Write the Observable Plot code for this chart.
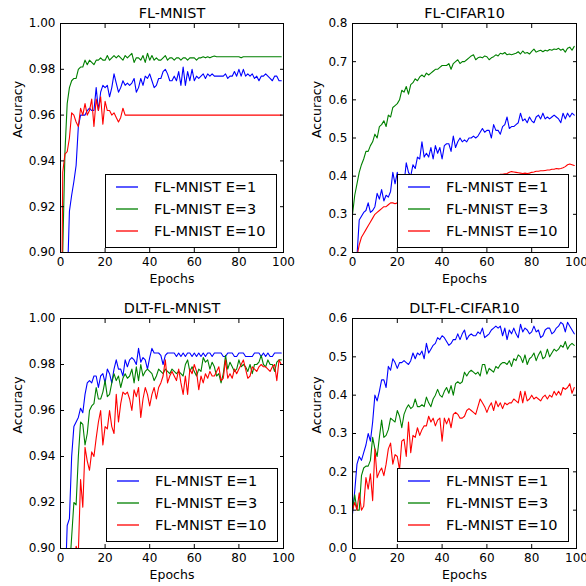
<!DOCTYPE html>
<html>
<head>
<meta charset="utf-8">
<script src="https://cdn.jsdelivr.net/npm/d3@7"></script>
<script src="https://cdn.jsdelivr.net/npm/@observablehq/plot@0.6"></script>
<style>
  html, body { margin: 0; padding: 0; background: #fff; }
  #chart { position: relative; width: 586px; height: 586px; font-family: "DejaVu Sans", sans-serif; }
  #chart > svg { position: absolute; }
  .legend { position: absolute; box-sizing: border-box; border: 1px solid #000; background: #fff; width: 172px; height: 74px; }
  .legend svg.sw { position: absolute; left: 10px; width: 24px; height: 4px; overflow: visible; }
  .legend .lt { position: absolute; left: 48px; font-size: 14.5px; line-height: 16px; color: #000; white-space: nowrap; }
</style>
</head>
<body>
<div id="chart"></div>
<script>
const seriesNames = ["FL-MNIST E=1", "FL-MNIST E=3", "FL-MNIST E=10"];
const seriesColors = ["#0000ff", "#008000", "#ff0000"];
const panelTitles = ["FL-MNIST", "FL-CIFAR10", "DLT-FL-MNIST", "DLT-FL-CIFAR10"];
const xTicks = [0, 20, 40, 60, 80, 100];
const mnistTicks = [0.90, 0.92, 0.94, 0.96, 0.98, 1.00];
const cifarTicksTop = [0.2, 0.3, 0.4, 0.5, 0.6, 0.7, 0.8];
const cifarTicksBottom = [0.0, 0.1, 0.2, 0.3, 0.4, 0.5, 0.6];

const flMnistE1 = [
  0.85, 0.86, 0.87, 0.885, 0.918, 0.925, 0.931, 0.938, 0.955, 0.960,
  0.960, 0.960, 0.962, 0.963, 0.962, 0.962, 0.972, 0.962, 0.970, 0.973,
  0.972, 0.973, 0.968, 0.972, 0.978, 0.974, 0.970, 0.972, 0.975, 0.973,
  0.974, 0.973, 0.974, 0.976, 0.970, 0.972, 0.976, 0.973, 0.977, 0.976,
  0.978, 0.975, 0.972, 0.973, 0.976, 0.976, 0.979, 0.980, 0.978, 0.975,
  0.975, 0.977, 0.975, 0.979, 0.973, 0.981, 0.973, 0.979, 0.975, 0.980,
  0.975, 0.977, 0.976, 0.977, 0.978, 0.976, 0.978, 0.977, 0.978, 0.977,
  0.977, 0.977, 0.977, 0.977, 0.978, 0.976, 0.977, 0.977, 0.979, 0.977,
  0.980, 0.977, 0.980, 0.977, 0.978, 0.977, 0.978, 0.976, 0.977, 0.975,
  0.977, 0.977, 0.978, 0.977, 0.976, 0.975, 0.977, 0.977, 0.975, 0.975
];
const flMnistE3 = [
  0.85, 0.90, 0.944, 0.965, 0.972, 0.975, 0.976, 0.976, 0.980, 0.981,
  0.981, 0.984, 0.982, 0.984, 0.983, 0.982, 0.984, 0.984, 0.985, 0.984,
  0.984, 0.986, 0.984, 0.985, 0.986, 0.985, 0.986, 0.985, 0.984, 0.986,
  0.985, 0.986, 0.987, 0.983, 0.985, 0.985, 0.984, 0.986, 0.983, 0.987,
  0.984, 0.986, 0.984, 0.985, 0.984, 0.984, 0.985, 0.986, 0.984, 0.985,
  0.985, 0.984, 0.985, 0.985, 0.984, 0.985, 0.985, 0.984, 0.985, 0.985,
  0.985, 0.984, 0.985, 0.985, 0.9855, 0.985, 0.9855, 0.985, 0.9855, 0.9858,
  0.9855, 0.9855, 0.9855, 0.9855, 0.9855, 0.9855, 0.9855, 0.9855, 0.9855, 0.9855,
  0.9855, 0.985, 0.9855, 0.9855, 0.9855, 0.9855, 0.9855, 0.9855, 0.9855, 0.9855,
  0.9855, 0.9855, 0.9855, 0.9855, 0.9855, 0.9855, 0.9855, 0.9855, 0.9855, 0.9855
];
const flMnistE10 = [
  0.80, 0.935, 0.943, 0.944, 0.950, 0.961, 0.960, 0.957, 0.955, 0.963,
  0.960, 0.965, 0.960, 0.962, 0.967, 0.955, 0.967, 0.962, 0.968, 0.956,
  0.966, 0.962, 0.962, 0.960, 0.961, 0.959, 0.957, 0.959, 0.963, 0.960,
  0.960, 0.960, 0.960, 0.960, 0.960, 0.960, 0.960, 0.960, 0.960, 0.960,
  0.960, 0.960, 0.960, 0.960, 0.960, 0.960, 0.960, 0.960, 0.960, 0.960,
  0.960, 0.960, 0.960, 0.960, 0.960, 0.960, 0.960, 0.960, 0.960, 0.960,
  0.960, 0.960, 0.960, 0.960, 0.960, 0.960, 0.960, 0.960, 0.960, 0.960,
  0.960, 0.960, 0.960, 0.960, 0.960, 0.960, 0.960, 0.960, 0.960, 0.960,
  0.960, 0.960, 0.960, 0.960, 0.960, 0.960, 0.960, 0.960, 0.960, 0.960,
  0.960, 0.960, 0.960, 0.960, 0.960, 0.960, 0.960, 0.960, 0.960, 0.960
];

const flCifarE1 = [
  0.15, 0.16, 0.19, 0.285, 0.295, 0.305, 0.31, 0.33, 0.305, 0.31,
  0.32, 0.355, 0.34, 0.365, 0.335, 0.35, 0.345, 0.36, 0.41, 0.38,
  0.41, 0.38, 0.40, 0.38, 0.435, 0.41, 0.40, 0.43, 0.42, 0.45,
  0.445, 0.49, 0.45, 0.46, 0.45, 0.475, 0.445, 0.48, 0.46, 0.475,
  0.445, 0.48, 0.485, 0.485, 0.465, 0.505, 0.475, 0.49, 0.50, 0.49,
  0.495, 0.49, 0.50, 0.50, 0.505, 0.50, 0.505, 0.515, 0.525, 0.515,
  0.52, 0.52, 0.50, 0.535, 0.52, 0.52, 0.51, 0.53, 0.535, 0.555,
  0.525, 0.53, 0.53, 0.535, 0.54, 0.565, 0.545, 0.55, 0.54, 0.555,
  0.545, 0.54, 0.555, 0.56, 0.55, 0.565, 0.55, 0.555, 0.55, 0.555,
  0.56, 0.555, 0.55, 0.54, 0.565, 0.55, 0.565, 0.555, 0.565, 0.56
];
const flCifarE3 = [
  0.30, 0.35, 0.38, 0.41, 0.43, 0.445, 0.465, 0.465, 0.48, 0.49,
  0.51, 0.50, 0.53, 0.535, 0.545, 0.53, 0.56, 0.555, 0.58, 0.585,
  0.59, 0.60, 0.625, 0.62, 0.635, 0.615, 0.64, 0.645, 0.655, 0.65,
  0.66, 0.665, 0.66, 0.67, 0.665, 0.67, 0.675, 0.68, 0.68, 0.685,
  0.69, 0.69, 0.69, 0.695, 0.68, 0.695, 0.70, 0.705, 0.695, 0.70,
  0.70, 0.705, 0.71, 0.715, 0.718, 0.705, 0.71, 0.712, 0.71, 0.715,
  0.713, 0.705, 0.71, 0.713, 0.718, 0.715, 0.722, 0.72, 0.724, 0.718,
  0.72, 0.718, 0.72, 0.722, 0.726, 0.72, 0.728, 0.722, 0.724, 0.72,
  0.727, 0.733, 0.725, 0.728, 0.73, 0.726, 0.73, 0.728, 0.732, 0.73,
  0.733, 0.732, 0.735, 0.73, 0.733, 0.725, 0.735, 0.738, 0.73, 0.74
];
const flCifarE10 = [
  0.15, 0.17, 0.19, 0.22, 0.24, 0.25, 0.26, 0.27, 0.28, 0.29,
  0.30, 0.305, 0.31, 0.315, 0.32, 0.32, 0.325, 0.33, 0.33, 0.328,
  0.33, 0.333, 0.336, 0.338, 0.342, 0.345, 0.347, 0.35, 0.352, 0.353,
  0.355, 0.357, 0.359, 0.361, 0.363, 0.365, 0.367, 0.368, 0.37, 0.372,
  0.375, 0.376, 0.378, 0.38, 0.382, 0.385, 0.386, 0.387, 0.389, 0.39,
  0.39, 0.391, 0.393, 0.394, 0.395, 0.395, 0.397, 0.398, 0.399, 0.40,
  0.40, 0.401, 0.402, 0.403, 0.404, 0.403, 0.405, 0.405, 0.406, 0.407,
  0.41, 0.412, 0.411, 0.41, 0.409, 0.408, 0.407, 0.408, 0.407, 0.408,
  0.41, 0.411, 0.413, 0.413, 0.414, 0.414, 0.415, 0.416, 0.416, 0.418,
  0.418, 0.42, 0.419, 0.42, 0.422, 0.425, 0.43, 0.432, 0.43, 0.428
];

const dltMnistE1 = [
  0.85, 0.86, 0.88, 0.91, 0.913, 0.940, 0.953, 0.955, 0.957, 0.961,
  0.959, 0.967, 0.972, 0.973, 0.972, 0.975, 0.975, 0.970, 0.975, 0.976,
  0.972, 0.978, 0.976, 0.972, 0.978, 0.982, 0.978, 0.978, 0.975, 0.982,
  0.979, 0.982, 0.983, 0.982, 0.980, 0.987, 0.981, 0.983, 0.982, 0.978,
  0.983, 0.987, 0.985, 0.985, 0.985, 0.984, 0.980, 0.984, 0.985, 0.985,
  0.985, 0.985, 0.9835, 0.985, 0.9835, 0.985, 0.9835, 0.985, 0.985, 0.9835,
  0.985, 0.9835, 0.985, 0.9835, 0.985, 0.9835, 0.985, 0.985, 0.9835, 0.985,
  0.985, 0.985, 0.985, 0.9835, 0.9835, 0.985, 0.985, 0.985, 0.9835, 0.9835,
  0.985, 0.985, 0.985, 0.9835, 0.9835, 0.9835, 0.9835, 0.985, 0.985, 0.985,
  0.9835, 0.985, 0.9835, 0.985, 0.9835, 0.9835, 0.985, 0.985, 0.985, 0.985
];
const dltMnistE3 = [
  0.80, 0.82, 0.85, 0.87, 0.89, 0.905, 0.920, 0.919, 0.940, 0.955,
  0.954, 0.945, 0.950, 0.960, 0.962, 0.963, 0.970, 0.965, 0.965, 0.968,
  0.973, 0.966, 0.967, 0.972, 0.976, 0.973, 0.975, 0.970, 0.974, 0.976,
  0.974, 0.975, 0.978, 0.972, 0.979, 0.973, 0.980, 0.975, 0.977, 0.978,
  0.977, 0.976, 0.973, 0.975, 0.978, 0.977, 0.976, 0.978, 0.977, 0.976,
  0.978, 0.977, 0.976, 0.977, 0.976, 0.975, 0.980, 0.982, 0.977, 0.979,
  0.977, 0.975, 0.978, 0.977, 0.983, 0.981, 0.982, 0.978, 0.981, 0.979,
  0.975, 0.976, 0.972, 0.976, 0.984, 0.978, 0.981, 0.979, 0.977, 0.978,
  0.982, 0.979, 0.980, 0.979, 0.977, 0.980, 0.976, 0.980, 0.980, 0.981,
  0.984, 0.980, 0.979, 0.982, 0.980, 0.980, 0.977, 0.981, 0.982, 0.982
];
const dltMnistE10 = [
  0.80, 0.82, 0.84, 0.86, 0.87, 0.88, 0.89, 0.901, 0.898, 0.930,
  0.918, 0.944, 0.938, 0.934, 0.942, 0.940, 0.948, 0.955, 0.960, 0.945,
  0.953, 0.952, 0.960, 0.953, 0.950, 0.967, 0.955, 0.963, 0.968, 0.967,
  0.968, 0.965, 0.960, 0.969, 0.966, 0.970, 0.957, 0.965, 0.970, 0.967,
  0.962, 0.967, 0.970, 0.965, 0.970, 0.972, 0.975, 0.982, 0.972, 0.975,
  0.977, 0.975, 0.973, 0.978, 0.972, 0.967, 0.975, 0.967, 0.978, 0.976,
  0.980, 0.977, 0.969, 0.975, 0.972, 0.976, 0.974, 0.977, 0.975, 0.975,
  0.977, 0.979, 0.973, 0.974, 0.982, 0.974, 0.976, 0.974, 0.978, 0.976,
  0.978, 0.980, 0.982, 0.978, 0.974, 0.975, 0.979, 0.978, 0.977, 0.979,
  0.980, 0.979, 0.979, 0.978, 0.977, 0.979, 0.980, 0.973, 0.982, 0.980
];

const dltCifarE1 = [
  0.09, 0.15, 0.22, 0.24, 0.23, 0.25, 0.27, 0.30, 0.28, 0.33,
  0.40, 0.385, 0.41, 0.44, 0.44, 0.42, 0.475, 0.465, 0.495, 0.485,
  0.47, 0.485, 0.485, 0.49, 0.485, 0.48, 0.49, 0.51, 0.495, 0.51,
  0.505, 0.515, 0.495, 0.535, 0.51, 0.52, 0.53, 0.535, 0.55, 0.545,
  0.555, 0.55, 0.54, 0.53, 0.535, 0.545, 0.545, 0.56, 0.545, 0.56,
  0.57, 0.545, 0.555, 0.56, 0.555, 0.555, 0.565, 0.56, 0.575, 0.55,
  0.555, 0.56, 0.57, 0.575, 0.58, 0.575, 0.58, 0.555, 0.575, 0.545,
  0.57, 0.56, 0.575, 0.56, 0.55, 0.585, 0.565, 0.575, 0.57, 0.56,
  0.565, 0.58, 0.565, 0.57, 0.55, 0.555, 0.57, 0.575, 0.575, 0.56,
  0.565, 0.575, 0.58, 0.59, 0.585, 0.565, 0.59, 0.58, 0.57, 0.56
];
const dltCifarE3 = [
  0.10, 0.14, 0.10, 0.10, 0.19, 0.21, 0.215, 0.215, 0.23, 0.29,
  0.26, 0.24, 0.29, 0.335, 0.29, 0.295, 0.31, 0.34, 0.335, 0.33,
  0.36, 0.345, 0.315, 0.35, 0.365, 0.375, 0.365, 0.37, 0.39, 0.37,
  0.37, 0.375, 0.37, 0.395, 0.38, 0.37, 0.39, 0.40, 0.415, 0.40,
  0.395, 0.41, 0.42, 0.405, 0.425, 0.40, 0.43, 0.435, 0.43, 0.435,
  0.46, 0.45, 0.46, 0.465, 0.46, 0.455, 0.46, 0.45, 0.48, 0.48,
  0.455, 0.47, 0.465, 0.46, 0.475, 0.47, 0.48, 0.485, 0.485, 0.48,
  0.49, 0.475, 0.495, 0.49, 0.505, 0.50, 0.485, 0.505, 0.48, 0.495,
  0.50, 0.51, 0.49, 0.505, 0.515, 0.495, 0.50, 0.52, 0.50, 0.51,
  0.52, 0.515, 0.52, 0.53, 0.525, 0.54, 0.52, 0.53, 0.535, 0.53
];
const dltCifarE10 = [
  0.10, 0.12, 0.10, 0.145, 0.10, 0.11, 0.185, 0.155, 0.195, 0.125,
  0.26, 0.185, 0.20, 0.21, 0.19, 0.22, 0.26, 0.275, 0.22, 0.245,
  0.24, 0.205, 0.28, 0.285, 0.24, 0.33, 0.25, 0.295, 0.29, 0.315,
  0.295, 0.31, 0.32, 0.32, 0.345, 0.33, 0.34, 0.32, 0.335, 0.34,
  0.28, 0.34, 0.325, 0.34, 0.315, 0.35, 0.355, 0.35, 0.34, 0.34,
  0.345, 0.36, 0.365, 0.36, 0.355, 0.35, 0.37, 0.39, 0.38, 0.37,
  0.355, 0.37, 0.38, 0.36, 0.385, 0.37, 0.38, 0.365, 0.38, 0.375,
  0.38, 0.38, 0.39, 0.385, 0.38, 0.41, 0.38, 0.41, 0.385, 0.39,
  0.40, 0.39, 0.395, 0.39, 0.385, 0.395, 0.40, 0.39, 0.40, 0.395,
  0.41, 0.40, 0.41, 0.40, 0.42, 0.415, 0.42, 0.43, 0.405, 0.42
];

const panels = [
  {title: panelTitles[0], series: [flMnistE1, flMnistE3, flMnistE10], yDomain: [0.90, 1.00], yTicks: mnistTicks, yFormat: d3.format(".2f"),
   left: 0, top: 0, ml: 60, mt: 23, mb: 41, yLabelDx: -43,
   legend: {left: 105, top: 174}},
  {title: panelTitles[1], series: [flCifarE1, flCifarE3, flCifarE10], yDomain: [0.2, 0.8], yTicks: cifarTicksTop, yFormat: d3.format(".1f"),
   left: 293, top: 0, ml: 59, mt: 23, mb: 41, yLabelDx: -36,
   legend: {left: 397, top: 174}},
  {title: panelTitles[2], series: [dltMnistE1, dltMnistE3, dltMnistE10], yDomain: [0.90, 1.00], yTicks: mnistTicks, yFormat: d3.format(".2f"),
   left: 0, top: 293, ml: 60, mt: 25, mb: 38, yLabelDx: -43,
   legend: {left: 106, top: 468}},
  {title: panelTitles[3], series: [dltCifarE1, dltCifarE3, dltCifarE10], yDomain: [0.0, 0.6], yTicks: cifarTicksBottom, yFormat: d3.format(".1f"),
   left: 293, top: 293, ml: 59, mt: 25, mb: 38, yLabelDx: -36,
   legend: {left: 397, top: 468}}
];

const chart = document.getElementById("chart");

for (const p of panels) {
  const rows = p.series.flatMap((vals, si) => vals.map((v, i) => ({epoch: i, acc: v, name: seriesNames[si]})));
  const svg = Plot.plot({
    width: 293, height: 293,
    marginLeft: p.ml, marginRight: 10, marginTop: p.mt, marginBottom: p.mb,
    x: {domain: [0, 100]},
    y: {domain: p.yDomain},
    color: {domain: seriesNames, range: seriesColors},
    style: {fontFamily: "DejaVu Sans", fontSize: "12px", background: "transparent", overflow: "visible", color: "black"},
    marks: [
      Plot.line(rows, {x: "epoch", y: "acc", z: "name", stroke: "name", strokeWidth: 1.1, clip: true}),
      Plot.frame({stroke: "black"}),
      Plot.axisX({ticks: xTicks, tickSize: -4, tickPadding: 9, tickFormat: d => String(d), label: null}),
      Plot.axisX({anchor: "top", ticks: xTicks, tickSize: -4, tickFormat: () => "", label: null}),
      Plot.axisY({ticks: p.yTicks, tickSize: -4, tickPadding: 9, tickFormat: p.yFormat, label: null}),
      Plot.axisY({anchor: "right", ticks: p.yTicks, tickSize: -4, tickFormat: () => "", label: null}),
      Plot.text([p.title], {text: d => d, frameAnchor: "top", lineAnchor: "middle", dy: -10, fontSize: 14.4, fontWeight: "normal"}),
      Plot.text(["Epochs"], {text: d => d, frameAnchor: "bottom", lineAnchor: "middle", dy: 26, fontSize: 12.5}),
      Plot.text(["Accuracy"], {text: d => d, frameAnchor: "left", lineAnchor: "middle", dx: p.yLabelDx, rotate: -90, fontSize: 12.5})
    ]
  });
  svg.style.left = p.left + "px";
  svg.style.top = p.top + "px";
  chart.appendChild(svg);
}

const NS = "http://www.w3.org/2000/svg";
for (const p of panels) {
  const lg = document.createElement("div");
  lg.className = "legend";
  lg.style.left = p.legend.left + "px";
  lg.style.top = p.legend.top + "px";
  seriesNames.forEach((name, i) => {
    const cy = 12 + i * 22;
    const sw = document.createElementNS(NS, "svg");
    sw.setAttribute("class", "sw");
    sw.setAttribute("width", "24");
    sw.setAttribute("height", "4");
    sw.style.top = (cy - 2) + "px";
    const ln = document.createElementNS(NS, "line");
    ln.setAttribute("x1", "0");
    ln.setAttribute("x2", "22");
    ln.setAttribute("y1", "2");
    ln.setAttribute("y2", "2");
    ln.setAttribute("stroke", seriesColors[i]);
    ln.setAttribute("stroke-width", "1.3");
    sw.appendChild(ln);
    const t = document.createElement("div");
    t.className = "lt";
    t.style.top = (cy - 8) + "px";
    t.textContent = name;
    lg.appendChild(sw);
    lg.appendChild(t);
  });
  chart.appendChild(lg);
}
</script>
</body>
</html>
